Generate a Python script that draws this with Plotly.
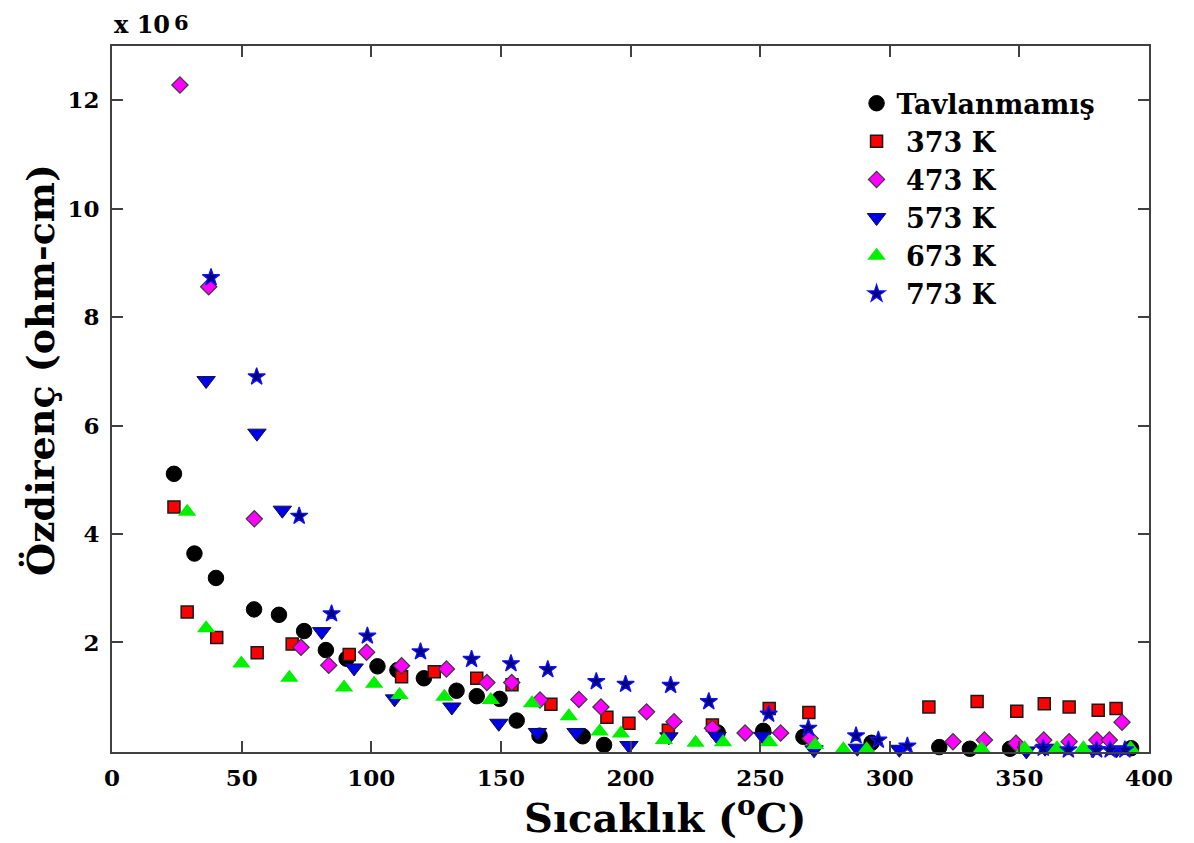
import plotly.graph_objects as go

# ---- data (x: temperature °C, y: resistivity in units of 1e6 ohm-cm) ----
tav_x = [23.9, 31.8, 40.1, 54.8, 64.4, 74.1, 82.5, 90.5, 102.4, 110.1, 120.3, 132.9, 140.7, 149.5,
         156.1, 164.9, 181.6, 189.8, 233.6, 251.2, 266.7, 293.0, 319.1, 330.9, 346.4, 393.1]
tav_y = [5.11, 3.64, 3.19, 2.61, 2.51, 2.21, 1.86, 1.70, 1.56, 1.49, 1.34, 1.11, 1.01, 0.96,
         0.56, 0.28, 0.27, 0.11, 0.34, 0.37, 0.26, 0.15, 0.07, 0.04, 0.04, 0.05]

k373_x = [23.9, 29.0, 40.4, 56.0, 69.5, 91.5, 111.7, 124.3, 140.7, 154.3, 169.3, 190.9, 199.4, 214.6,
          231.6, 253.5, 268.8, 315.1, 333.7, 349.0, 359.6, 369.2, 380.4, 387.3]
k373_y = [4.50, 2.56, 2.09, 1.81, 1.97, 1.78, 1.37, 1.46, 1.34, 1.22, 0.86, 0.62, 0.51, 0.38,
          0.48, 0.78, 0.71, 0.81, 0.91, 0.73, 0.87, 0.81, 0.75, 0.78]

k473_x = [26.2, 37.3, 54.9, 72.9, 83.6, 98.2, 111.7, 129.0, 144.6, 154.2, 165.1, 180.1, 188.6, 206.2,
          216.8, 231.6, 244.2, 257.9, 269.3, 324.4, 336.5, 348.7, 359.4, 369.2, 379.9, 384.7, 389.6]
k473_y = [12.28, 8.56, 4.28, 1.91, 1.58, 1.82, 1.57, 1.51, 1.26, 1.26, 0.94, 0.95, 0.81, 0.72,
          0.54, 0.42, 0.33, 0.33, 0.23, 0.17, 0.20, 0.14, 0.20, 0.17, 0.20, 0.20, 0.53]

k573_x = [36.3, 55.9, 65.7, 80.9, 93.4, 109.0, 131.1, 149.2, 164.1, 179.0, 199.4, 214.8, 233.4, 251.0,
          270.8, 287.5, 303.7, 352.7, 359.9, 378.4, 387.5]
k573_y = [6.83, 5.86, 4.44, 2.20, 1.53, 0.96, 0.81, 0.51, 0.34, 0.34, 0.10, 0.26, 0.27, 0.27,
          0.02, 0.05, 0.03, 0.00, 0.05, 0.02, 0.02]

k673_x = [29.0, 36.3, 49.9, 68.4, 89.5, 101.1, 110.9, 128.2, 146.1, 162.0, 176.2, 188.1, 196.3, 212.9,
          225.1, 235.7, 253.5, 271.2, 282.1, 291.1, 335.4, 352.0, 364.5, 374.7, 392.9]
k673_y = [4.41, 2.26, 1.61, 1.35, 1.17, 1.24, 1.03, 1.00, 0.94, 0.88, 0.64, 0.36, 0.32, 0.20,
          0.15, 0.16, 0.16, 0.11, 0.03, 0.03, 0.04, 0.05, 0.05, 0.05, 0.05]

k773_x = [38.2, 55.8, 72.2, 84.7, 98.5, 119.0, 138.7, 153.9, 168.1, 186.8, 198.1, 215.5, 230.2, 253.3,
          268.6, 287.0, 295.6, 306.8, 359.2, 368.9, 379.8, 385.0, 390.7]
k773_y = [8.73, 6.90, 4.33, 2.53, 2.12, 1.83, 1.69, 1.61, 1.50, 1.28, 1.23, 1.21, 0.91, 0.68,
          0.42, 0.28, 0.20, 0.09, 0.05, 0.02, 0.02, 0.02, 0.02]

names = ["Tavlanmamış", " 373 K", " 473 K", " 573 K", " 673 K", " 773 K"]
x_ticks = [0, 50, 100, 150, 200, 250, 300, 350, 400]
y_ticks = [2, 4, 6, 8, 10, 12]

FONT = "DejaVu Serif"

styles = [
    dict(symbol="circle", size=15.5, color="#000000", line=dict(color="#000000", width=1)),
    dict(symbol="square", size=12, color="#ff0000", line=dict(color="#1a1a1a", width=1.5)),
    dict(symbol="diamond", size=12.5, color="#ff00ff", line=dict(color="#3a3a3a", width=1.2)),
    dict(symbol="triangle-down", size=16, color="#0000e6", line=dict(color="#101040", width=1)),
    dict(symbol="triangle-up", size=16, color="#00f000", line=dict(color="#00f000", width=0)),
    dict(symbol="star", size=13, color="#000080", line=dict(color="#1010ff", width=1.3)),
]

series = [(tav_x, tav_y), (k373_x, k373_y), (k473_x, k473_y),
          (k573_x, k573_y), (k673_x, k673_y), (k773_x, k773_y)]

fig = go.Figure()
for (xs, ys), nm, st in zip(series, names, styles):
    fig.add_trace(go.Scatter(x=xs, y=ys, mode="markers", name=nm, marker=st, cliponaxis=False))

axis_common = dict(
    showline=True, linecolor="#404040", linewidth=2, mirror="ticks",
    ticks="inside", ticklen=11, tickwidth=1.5, tickcolor="#404040",
    showgrid=False, zeroline=False,
)

# page body has an 8px margin: figure is sized/offset to compensate
fig.update_layout(
    width=1186, height=835,
    margin=dict(l=104, r=45, t=38, b=91),
    paper_bgcolor="white", plot_bgcolor="white",
    xaxis=dict(range=[0, 400], tickvals=x_ticks, ticklabelstandoff=4,
               tickfont=dict(family=FONT, size=23, color="#000000", weight="bold"),
               **axis_common),
    yaxis=dict(range=[-0.02, 13], tickvals=y_ticks, ticklabelstandoff=6,
               tickfont=dict(family=FONT, size=23, color="#000000", weight="bold"),
               **axis_common),
    legend=dict(
        x=0.718, y=0.953, xanchor="left", yanchor="top",
        bgcolor="rgba(0,0,0,0)", borderwidth=0, tracegroupgap=0,
        font=dict(family=FONT, size=27, color="#000000", weight="bold"),
        itemsizing="trace",
    ),
    showlegend=True,
    annotations=[
        dict(text="x 10", xref="paper", yref="paper", x=0, y=1, xanchor="left",
             yanchor="bottom", yshift=5, showarrow=False,
             font=dict(family=FONT, size=24, color="#000000", weight="bold")),
        dict(text="6", xref="paper", yref="paper", x=0.0575, y=1, xanchor="left",
             yanchor="top", yshift=38, showarrow=False,
             font=dict(family=FONT, size=21, color="#000000", weight="bold")),
        dict(text="Özdirenç (ohm-cm)", xref="paper", yref="paper", x=-0.0694, y=0.541,
             xanchor="center", yanchor="middle", textangle=-90, showarrow=False,
             font=dict(family=FONT, size=38, color="#000000", weight="bold")),
        dict(text="Sıcaklık (<sup>o</sup>C)", xref="paper", yref="paper", x=0.533, y=-0.089,
             xanchor="center", yanchor="middle", showarrow=False,
             font=dict(family=FONT, size=40, color="#000000", weight="bold")),
    ],
)

fig.write_html("out.html")
